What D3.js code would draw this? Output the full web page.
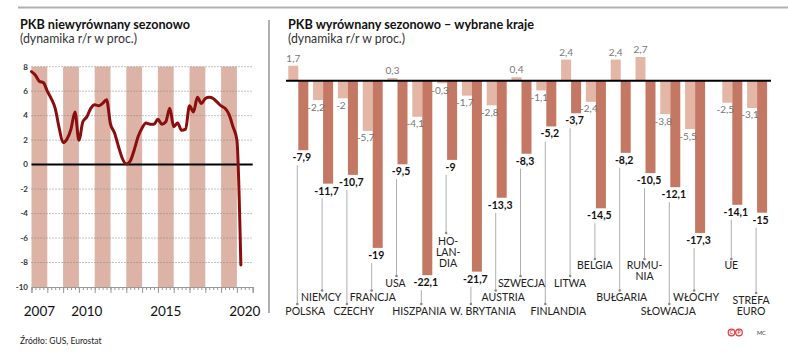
<!DOCTYPE html>
<html>
<head>
<meta charset="utf-8">
<script src="https://cdn.jsdelivr.net/npm/d3@7"></script>
<style>
  body { margin: 0; background: #fff; }
  svg text { font-family: Lato, "Noto Sans", sans-serif; }
</style>
</head>
<body>
<svg id="chart" width="788" height="352"></svg>
<script>
// PKB niewyrownany sezonowo, kwartalnie od 2007 Q1 do 2020 Q2
const GDP_NSA = [
  7.6, 7.3, 6.8, 6.7,
  6.0, 5.4, 4.6, 3.0,
  1.8, 2.1, 2.9, 4.3,
  2.0, 3.5, 3.9, 4.6,
  4.9, 4.8, 5.0, 5.3,
  3.3, 2.6, 1.5, 0.5,
  0.05, 0.3, 1.2, 2.3,
  3.0, 3.4, 3.3, 3.3,
  3.7, 3.3, 3.5, 4.6,
  3.1, 3.4, 2.8, 2.9,
  4.8, 4.3, 5.5, 5.0,
  5.4, 5.5, 5.4, 5.1,
  4.8, 4.6, 4.1, 3.1,
  2.0, -8.2
];
const FIRST_YEAR = 2007;
const LAST_YEAR = 2020;
const YEAR_LABELS = [2007, 2010, 2015, 2020];
const LEFT_TICKS = [8, 6, 4, 2, 0, -2, -4, -6, -8, -10];

const COUNTRIES = [
  "POLSKA", "NIEMCY", "CZECHY", "FRANCJA", "USA", "HISZPANIA", "HO-|LAN-|DIA",
  "W. BRYTANIA", "AUSTRIA", "SZWECJA", "FINLANDIA", "LITWA", "BELGIA",
  "BUŁGARIA", "RUMU-|NIA", "SŁOWACJA", "WŁOCHY", "UE", "STREFA|EURO"
];
const Q1_2020 = [1.7, -2.2, -2, -5.7, 0.3, -4.1, -0.3, -1.7, -2.8, 0.4, -1.1, 2.4, -2.4, 2.4, 2.7, -3.8, -5.5, -2.5, -3.1];
const Q2_2020 = [-7.9, -11.7, -10.7, -19, -9.5, -22.1, -9, -21.7, -13.3, -8.3, -5.2, -3.7, -14.5, -8.2, -10.5, -12.1, -17.3, -14.1, -15];

// uklad podpisow krajow (wiersz pod wykresem i przesuniecie wzgledem kreski)
const NAME_ROW = [0, 1, 0, 1, 2, 0, 4, 0, 1, 2, 0, 2, 3, 1, 3, 0, 1, 3, 5];
const NAME_DX = [8, -1, 7, 1, -1, -2, 2, 12, 7.5, 1, 13, 0, 0, 2, 0, -1, 2, 0, -5];
const ROWS = [
  { base: 315, dot: 304 },
  { base: 300.5, dot: 290.5 },
  { base: 286.5, dot: 276 },
  { base: 268.5, dot: 259 },
  { base: 245, dot: 233 },
  { base: 304, dot: 293 }
];

const C_STRIPE = "#dcb3a5";
const C_LINE = "#8b0e0e";
const C_LIGHT = "#e3b6a6";
const C_DARK = "#c47864";

const fmt = v => String(v).replace(".", ",");

const svg = d3.select("#chart");

// ramki
svg.append("line").attr("x1", 18).attr("x2", 788).attr("y1", 7.5).attr("y2", 7.5)
  .attr("stroke", "#b0b0b0").attr("stroke-width", 2);
svg.append("line").attr("x1", 269).attr("x2", 269).attr("y1", 20).attr("y2", 313)
  .attr("stroke", "#b0b0b0").attr("stroke-width", 2);

function titles(x, title, w) {
  svg.append("text").attr("x", x).attr("y", 29).attr("font-size", 13.5)
    .attr("font-weight", 700).attr("fill", "#111")
    .attr("textLength", w).attr("lengthAdjust", "spacingAndGlyphs").text(title);
  svg.append("text").attr("x", x).attr("y", 43).attr("font-size", 12.5)
    .attr("fill", "#333").attr("textLength", 117).attr("lengthAdjust", "spacingAndGlyphs")
    .text("(dynamika r/r w proc.)");
}
titles(20, "PKB niewyrównany sezonowo", 170);
titles(288, "PKB wyrównany sezonowo – wybrane kraje", 246);

// ---------- lewy wykres ----------
const nQ = (LAST_YEAR - FIRST_YEAR + 1) * 4;
const xL = d3.scaleLinear().domain([0, nQ]).range([31.5, 252.7]);
const yL = d3.scaleLinear().domain([-10, 8]).range([287, 66.7]);

const left = svg.append("g");

const years = d3.range(FIRST_YEAR, LAST_YEAR + 1);
left.selectAll("rect.stripe")
  .data(years.filter(y => (y - FIRST_YEAR) % 2 === 0))
  .enter().append("rect")
  .attr("x", y => xL((y - FIRST_YEAR) * 4))
  .attr("width", y => xL(4) - xL(0))
  .attr("y", yL(8))
  .attr("height", yL(-10) - yL(8))
  .attr("fill", C_STRIPE);

left.selectAll("line.grid")
  .data(LEFT_TICKS.filter(t => t !== 0 && t !== -10))
  .enter().append("line")
  .attr("x1", xL(0)).attr("x2", xL(nQ))
  .attr("y1", d => yL(d)).attr("y2", d => yL(d))
  .attr("stroke", "#888").attr("stroke-width", 1)
  .attr("stroke-dasharray", "1,2");

left.selectAll("text.ytick")
  .data(LEFT_TICKS)
  .enter().append("text")
  .attr("x", 28).attr("y", d => yL(d)).attr("dy", "0.35em")
  .attr("text-anchor", "end").attr("font-size", 8).attr("font-weight", 700)
  .attr("fill", "#333").text(d => d);

// os X: kwartaly i lata
const axisG = left.append("g").attr("transform", `translate(0,${yL(-10)})`);
axisG.call(d3.axisBottom(xL).tickValues(d3.range(0, nQ + 1)).tickSize(3).tickFormat(""));
axisG.call(g => g.select(".domain").remove());
const axisY = left.append("g").attr("transform", `translate(0,${yL(-10)})`);
axisY.call(d3.axisBottom(xL).tickValues(d3.range(0, nQ + 1, 4)).tickSize(6).tickFormat(""));
axisY.select(".domain").attr("stroke", "#999");
left.selectAll(".tick line").attr("stroke", "#999");

left.selectAll("text.year")
  .data(YEAR_LABELS)
  .enter().append("text")
  .attr("x", y => xL((y - FIRST_YEAR) * 4 + 2))
  .attr("y", 316).attr("text-anchor", "middle").attr("font-size", 13.5)
  .attr("fill", "#111").text(d => d);

left.append("line").attr("x1", xL(0)).attr("x2", xL(nQ))
  .attr("y1", yL(0)).attr("y2", yL(0)).attr("stroke", "#000").attr("stroke-width", 2);

left.append("path")
  .datum(GDP_NSA)
  .attr("fill", "none").attr("stroke", C_LINE).attr("stroke-width", 3)
  .attr("stroke-linejoin", "round").attr("stroke-linecap", "round")
  .attr("d", d3.line().x((d, i) => xL(i)).y(d => yL(d)).curve(d3.curveMonotoneX));

svg.append("text").attr("x", 20).attr("y", 344).attr("font-size", 8.5)
  .attr("fill", "#222").text("Źródło: GUS, Eurostat");

// ---------- prawy wykres ----------
const slot = i => i + (i >= 17 ? 0.5 : 0);
const xR = d3.scaleLinear().domain([0, 19]).range([288.3, 288.3 + 24.8 * 19]);
const yR = d3.scaleLinear().domain([3, -23]).range([80.7 - 26.4, 80.7 + 202.4]);
const BW = 10;

const rows = COUNTRIES.map((c, i) => ({
  name: c, q1: Q1_2020[i], q2: Q2_2020[i], x: xR(slot(i)),
  row: ROWS[NAME_ROW[i]], dx: NAME_DX[i]
}));

const right = svg.append("g");

right.selectAll("rect.q1").data(rows).enter().append("rect")
  .attr("x", d => d.x).attr("width", BW)
  .attr("y", d => yR(Math.max(0, d.q1)))
  .attr("height", d => Math.abs(yR(d.q1) - yR(0)))
  .attr("fill", C_LIGHT);

right.selectAll("rect.q2").data(rows).enter().append("rect")
  .attr("x", d => d.x + BW).attr("width", BW)
  .attr("y", d => yR(Math.max(0, d.q2)))
  .attr("height", d => Math.abs(yR(d.q2) - yR(0)))
  .attr("fill", C_DARK);

right.append("line").attr("x1", 286).attr("x2", 771)
  .attr("y1", yR(0)).attr("y2", yR(0)).attr("stroke", "#000").attr("stroke-width", 2);

right.selectAll("text.q1").data(rows).enter().append("text")
  .attr("x", d => d.x + (d.q1 > 0 ? 5 : 3))
  .attr("y", d => d.q1 > 0 ? yR(d.q1) - 4 : yR(d.q1) + 10.5)
  .attr("text-anchor", "middle").attr("font-size", 10).attr("fill", "#777")
  .text(d => fmt(d.q1));

right.selectAll("text.q2").data(rows).enter().append("text")
  .attr("x", d => d.x + 13.5)
  .attr("y", d => yR(d.q2) + 11)
  .attr("text-anchor", "middle").attr("font-size", 10.5).attr("font-weight", 700)
  .attr("fill", "#111")
  .text(d => fmt(d.q2));

right.selectAll("line.lead").data(rows).enter().append("line")
  .attr("x1", d => d.x + 9).attr("x2", d => d.x + 9)
  .attr("y1", d => yR(d.q2) + 15).attr("y2", d => d.row.dot)
  .attr("stroke", "#999").attr("stroke-width", 0.8);

right.selectAll("circle.lead").data(rows).enter().append("circle")
  .attr("cx", d => d.x + 9).attr("cy", d => d.row.dot).attr("r", 1.3)
  .attr("fill", "#888");

const names = right.selectAll("text.name").data(rows).enter().append("text")
  .attr("text-anchor", "middle").attr("font-size", 10.5).attr("fill", "#222");
names.each(function (d) {
  d3.select(this).selectAll("tspan").data(d.name.split("|")).enter().append("tspan")
    .attr("x", d.x + 9 + d.dx).attr("y", (t, k) => d.row.base + k * 11).text(t => t);
});

// logo
const logo = svg.append("g").attr("fill", "none").attr("stroke", "#e23a3a").attr("stroke-width", 1.2);
logo.selectAll("circle").data(["C", "P"]).enter().append("circle")
  .attr("cx", (d, i) => 731.5 + i * 7.5).attr("cy", 332.5).attr("r", 3.3);
svg.selectAll("text.logo").data(["C", "P"]).enter().append("text")
  .attr("x", (d, i) => 731.5 + i * 7.5).attr("y", 334.3).attr("text-anchor", "middle")
  .attr("font-size", 5).attr("font-weight", 700).attr("fill", "#e23a3a").text(d => d);
svg.append("text").attr("x", 757).attr("y", 335).attr("font-size", 5.5)
  .attr("fill", "#333").text("MC");
</script>
</body>
</html>
